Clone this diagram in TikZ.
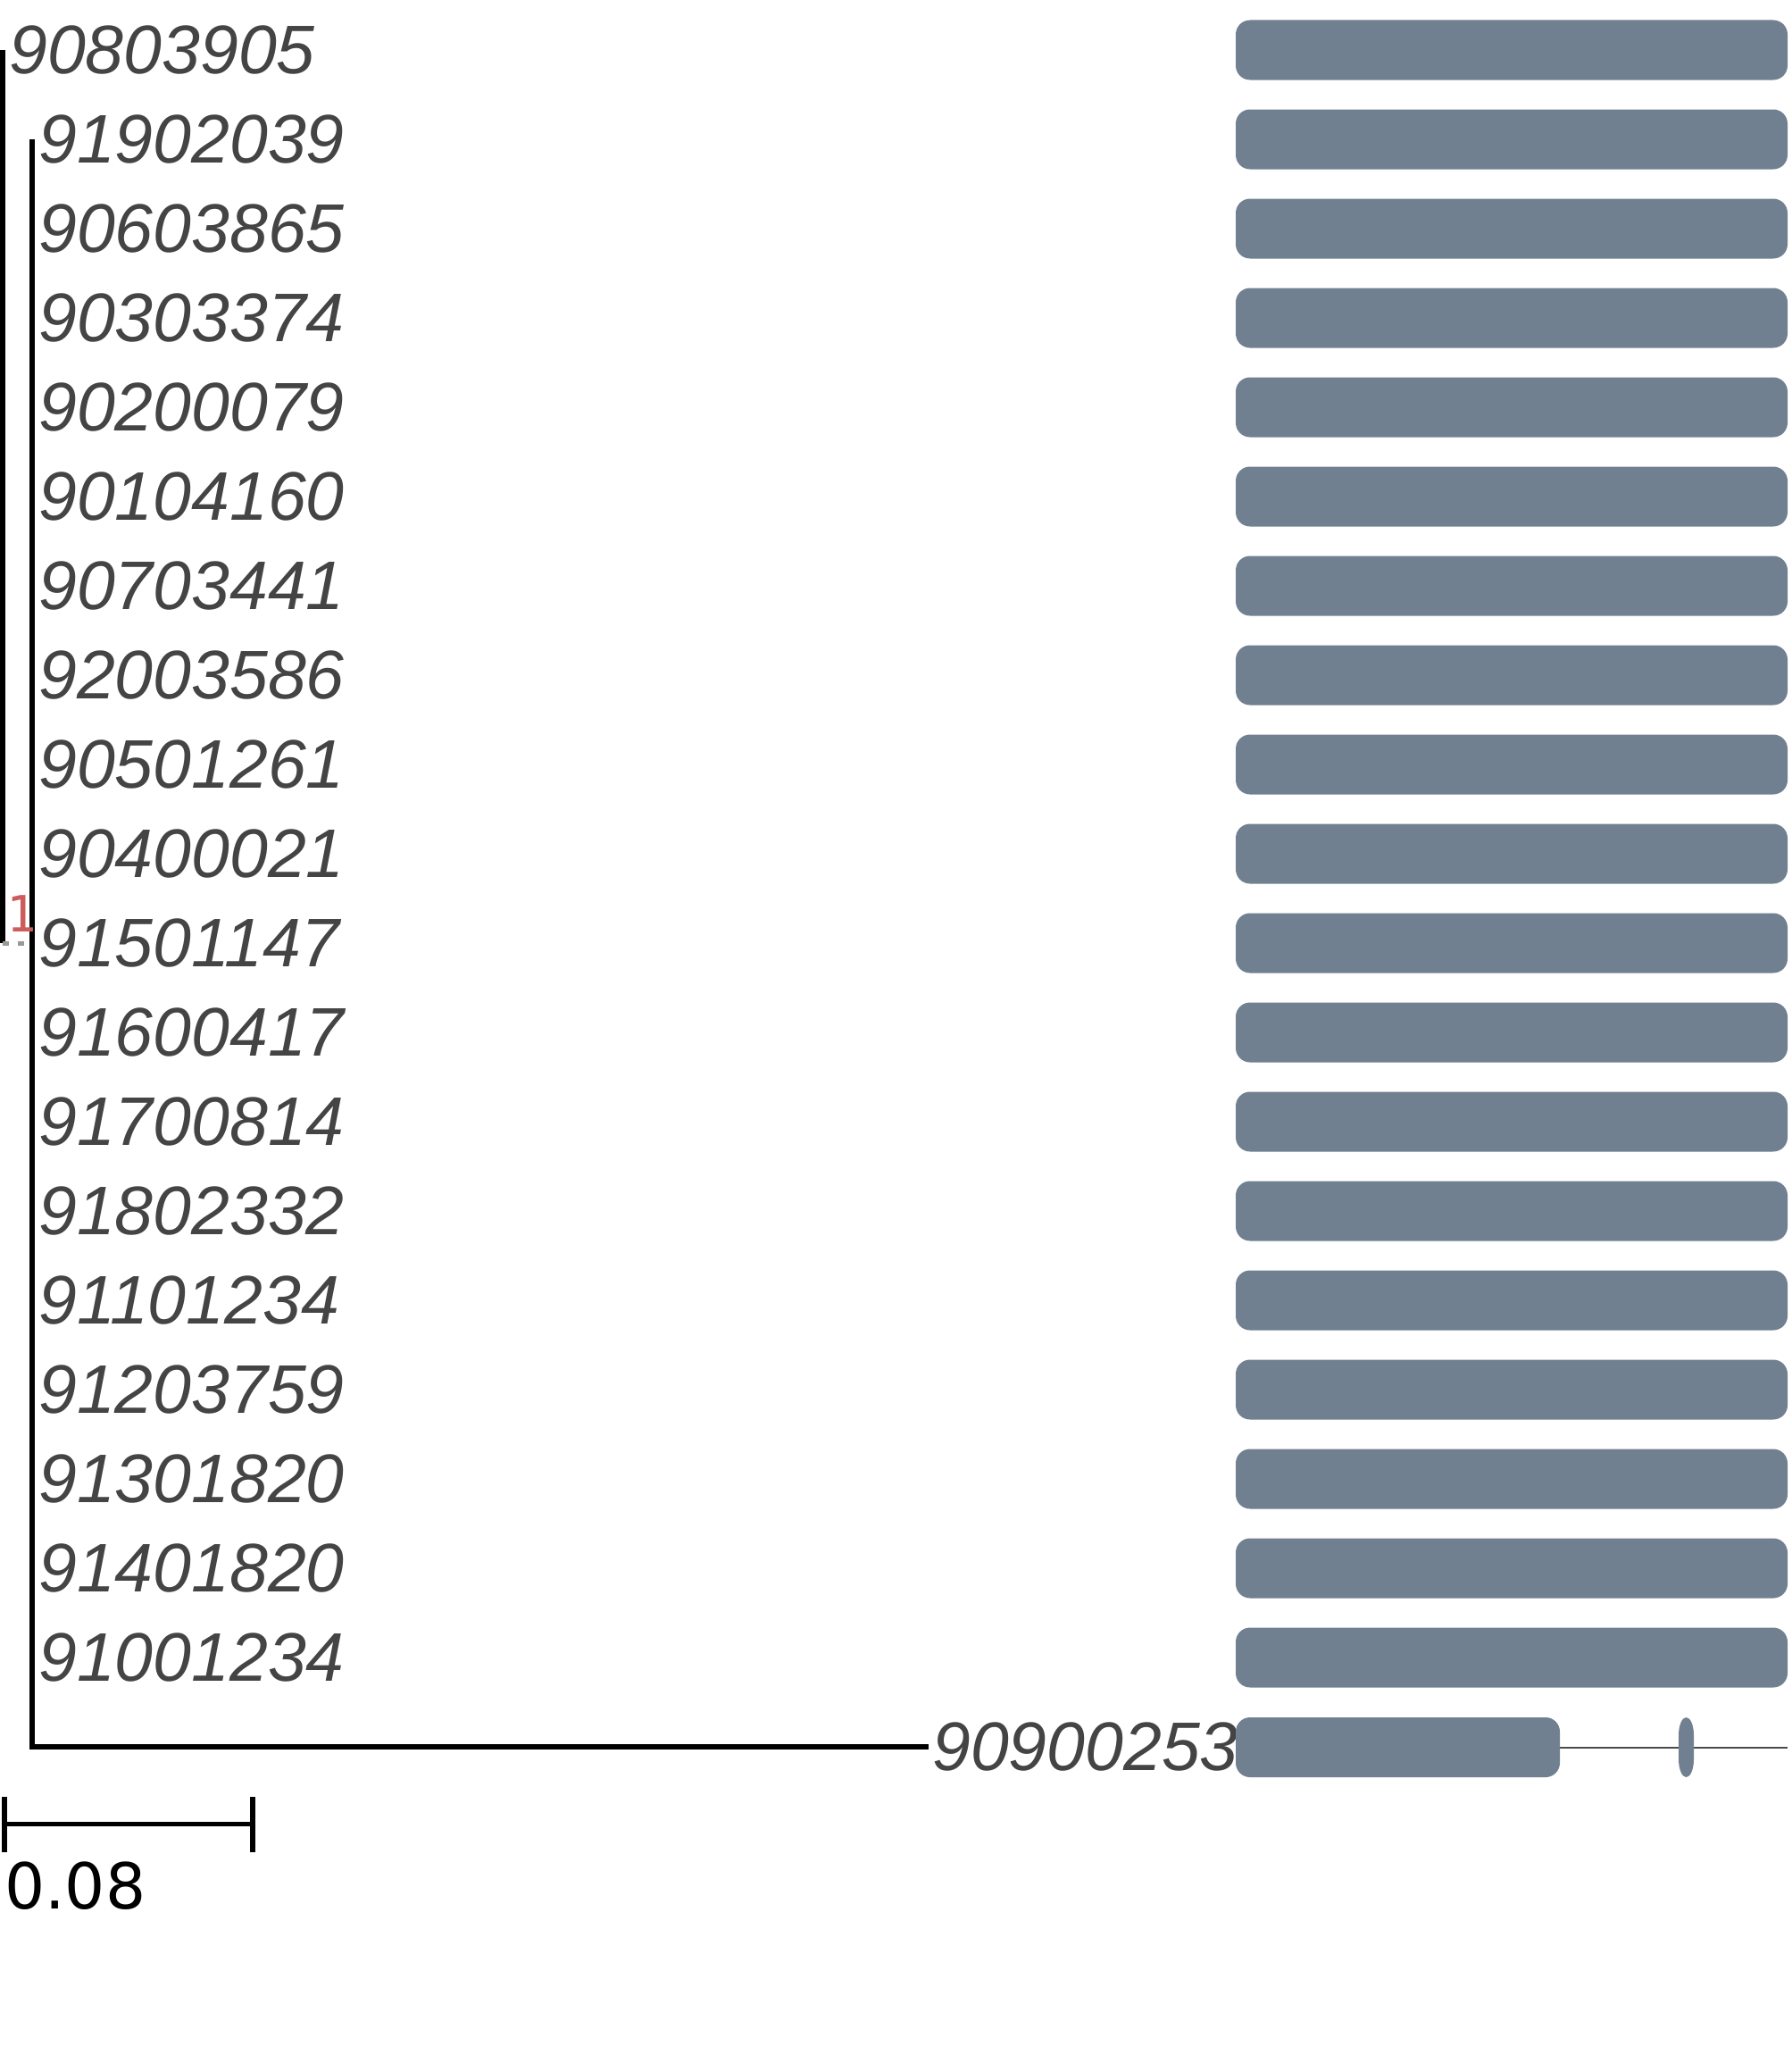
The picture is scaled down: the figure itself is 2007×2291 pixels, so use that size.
\documentclass[tikz,border=0pt]{standalone}
\usepackage{fontspec}
\setmainfont{Liberation Sans}
\newfontfamily\scalebarfont{DejaVu Sans}
\newfontfamily\supportfont{DejaVu Sans Mono}
\definecolor{barcol}{RGB}{112,128,144}
\definecolor{labcol}{RGB}{68,68,68}
\definecolor{supcol}{RGB}{205,92,92}
\tikzset{
  branch/.style={line width=5.5pt, black},
  dotbranch/.style={line width=5pt, gray!80, dash pattern=on 7pt off 10pt},
  leaflab/.style={anchor=west, inner sep=0pt, text=labcol, font=\fontsize{77}{80}\selectfont\itshape},
  protbar/.style={fill=barcol, rounded corners=16pt},
  backbone/.style={line width=2pt, black!70},
  supportlab/.style={anchor=base east, inner sep=0pt, text=supcol, font=\fontsize{56}{58}\supportfont},
  scalelab/.style={anchor=north west, inner sep=0pt, text=black, font=\fontsize{71}{74}\scalebarfont}
}
\begin{document}
\begin{tikzpicture}[x=1pt,y=-1pt]
\useasboundingbox (0,0) rectangle (2007,2291);
% root and inner node
\coordinate (root) at (3,1056);
\coordinate (inner) at (36,1056);
\coordinate (r0) at (3,56);
\coordinate (i1) at (36,156);
\coordinate (i19) at (36,1956);
\coordinate (t19) at (1040,1956);
% tree
\draw[branch] (r0) -- (root);
\draw[dotbranch] (root) -- (inner);
\draw[branch] (i1) -- (i19) -- (t19);
\node[supportlab] (sup) at (41,1043) {1};
% labels
\node[leaflab] (l0) at (10,56) {90803905};
\foreach \lab [count=\i from 1] in {91902039,90603865,90303374,90200079,90104160,90703441,92003586,90501261,90400021,91501147,91600417,91700814,91802332,91101234,91203759,91301820,91401820,91001234}{
  \node[leaflab] (l\i) at (43,{56+100*\i}) {\lab};
}
\node[leaflab] (l19) at (1044,1956) {90900253};
% protein bars
\foreach \i in {0,...,18}{
  \fill[protbar] (1384,{22.5+100*\i}) rectangle (2002,{89.5+100*\i});
}
\coordinate (bb1) at (1740,1957);
\coordinate (bb2) at (2002,1957);
\draw[backbone] (bb1) -- (bb2);
\fill[protbar] (1384,1923) rectangle (1747,1990);
\fill[barcol] (1880,1943) -- (1880,1970) arc[start angle=180, end angle=360, x radius=8.5pt, y radius=20pt]
  -- (1897,1943) arc[start angle=0, end angle=180, x radius=8.5pt, y radius=20pt] -- cycle;
% scale bar
\coordinate (sb1) at (5,2042);
\coordinate (sb2) at (283,2042);
\draw[line width=5pt] (sb1) -- (sb2);
\draw[line width=5.5pt] ([yshift=-32pt]sb1) -- ([yshift=30pt]sb1);
\draw[line width=5.5pt] ([yshift=-32pt]sb2) -- ([yshift=30pt]sb2);
\node[scalelab] (sl) at (5,2085) {0.08};
\end{tikzpicture}
\end{document}
